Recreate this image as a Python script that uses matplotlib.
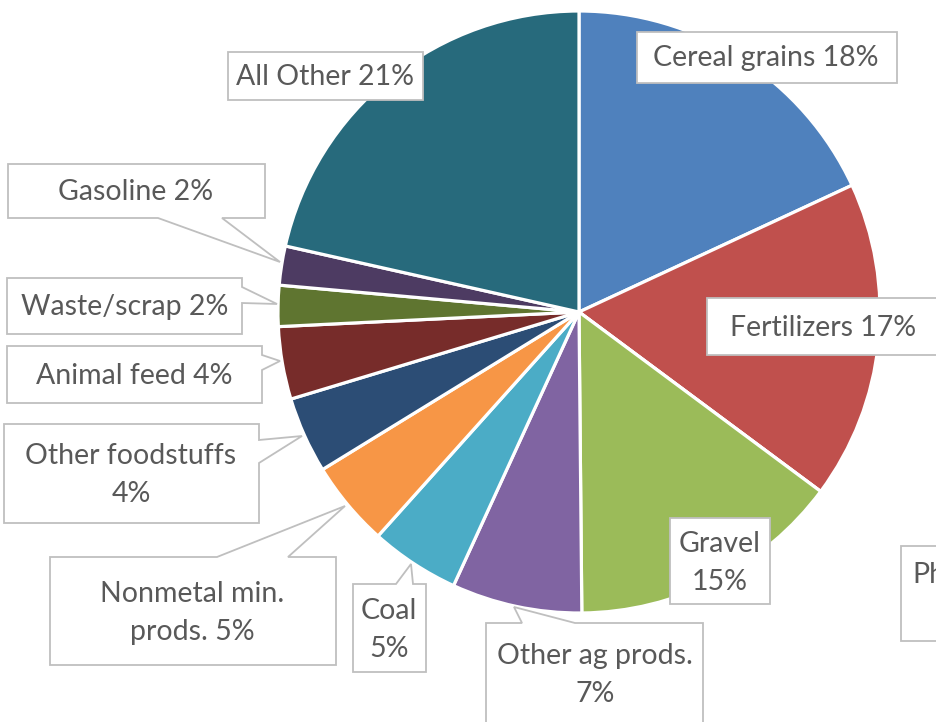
import matplotlib
matplotlib.use("Agg")
import matplotlib.pyplot as plt
from matplotlib.patches import Polygon

# ---- data ----
categories = ["Cereal grains", "Fertilizers", "Pharmaceuticals", "Gravel", "Other ag prods.",
              "Coal", "Nonmetal min. prods.", "Other foodstuffs", "Animal feed",
              "Waste/scrap", "Gasoline", "All Other"]
values = [18.1, 17.1, 0.0, 14.7, 7.0, 4.8, 4.6, 4.1, 3.9, 2.2, 2.1, 21.5]
pct_labels = ["18%", "17%", "0%", "15%", "7%", "5%", "5%", "4%", "4%", "2%", "2%", "21%"]
colors = ["#4F81BD", "#C0504D", "#8EB4E3", "#9BBB59", "#8064A2", "#4BACC6", "#F79646",
          "#2C4D75", "#772C2A", "#5F7530", "#4D3B62", "#276A7C"]

W, H = 937, 722
fig = plt.figure(figsize=(W / 100, H / 100), dpi=100)
ax = fig.add_axes([0, 0, 1, 1])

def Y(y):
    return H - y

cx, cy, R = 579, 312, 301
ax.pie(values, colors=colors, startangle=90, counterclock=False,
       center=(cx, Y(cy)), radius=R,
       wedgeprops=dict(edgecolor="white", linewidth=2.3))
ax.set_xlim(0, W)
ax.set_ylim(0, H)
ax.set_aspect("equal")
ax.axis("off")

# label layout (pixel coords, y down): box, text, text anchor, pointer
# pointer: (side, base_a, base_b, tip_x, tip_y)
layout = {
    "Cereal grains": dict(box=(637, 32, 897, 83), text="Cereal grains 18%", tc=(766, 58), ptr=None),
    "Fertilizers": dict(box=(707, 298, 1000, 355), text="Fertilizers 17%", tc=(823, 328), ptr=None),
    "Pharmaceuticals": dict(box=(901, 546, 1080, 641), text="Pharmaceuticals\n0%", tc=(912, 594),
                            ptr=None, ha="left"),
    "Gravel": dict(box=(670, 518, 770, 604), text="Gravel\n15%", tc=(720, 563), ptr=None),
    "Other ag prods.": dict(box=(486, 623, 703, 760), text="Other ag prods.\n7%", tc=(595, 675),
                            ptr=("top", 522, 575, 514, 607)),
    "Coal": dict(box=(353, 584, 426, 672), text="Coal\n5%", tc=(389, 630),
                 ptr=("top", 396, 413, 411, 564)),
    "Nonmetal min. prods.": dict(box=(50, 557, 336, 665), text="Nonmetal min.\nprods. 5%", tc=(192, 613),
                                 ptr=("top", 217, 288, 345, 506)),
    "Other foodstuffs": dict(box=(4, 424, 259, 523), text="Other foodstuffs\n4%", tc=(131, 475),
                             ptr=("right", 440, 463, 302, 436)),
    "Animal feed": dict(box=(7, 346, 262, 403), text="Animal feed 4%", tc=(134, 376),
                        ptr=("right", 355, 370, 280, 361)),
    "Waste/scrap": dict(box=(7, 278, 242, 334), text="Waste/scrap 2%", tc=(125, 307),
                        ptr=("right", 287, 303, 277, 304)),
    "Gasoline": dict(box=(8, 164, 265, 218), text="Gasoline 2%", tc=(136, 192),
                     ptr=("bottom", 222, 158, 280, 262)),
    "All Other": dict(box=(228, 52, 423, 100), text="All Other 21%", tc=(325, 77), ptr=None),
}

def callout_vertices(box, ptr):
    x0, y0, x1, y1 = box
    pts = [(x0, y0)]
    if ptr and ptr[0] == "top":
        a, b = sorted(ptr[1:3])
        pts += [(a, y0), (ptr[3], ptr[4]), (b, y0)]
    pts.append((x1, y0))
    if ptr and ptr[0] == "right":
        a, b = sorted(ptr[1:3])
        pts += [(x1, a), (ptr[3], ptr[4]), (x1, b)]
    pts.append((x1, y1))
    if ptr and ptr[0] == "bottom":
        a, b = sorted(ptr[1:3], reverse=True)
        pts += [(a, y1), (ptr[3], ptr[4]), (b, y1)]
    pts.append((x0, y1))
    if ptr and ptr[0] == "left":
        a, b = sorted(ptr[1:3], reverse=True)
        pts += [(x0, a), (ptr[3], ptr[4]), (x0, b)]
    return [(x, Y(y)) for x, y in pts]

for name in categories:
    d = layout[name]
    poly = Polygon(callout_vertices(d["box"], d["ptr"]), closed=True,
                   facecolor="white", edgecolor="#BFBFBF", linewidth=1.3, zorder=5,
                   clip_on=False)
    ax.add_patch(poly)
    ax.text(d["tc"][0], Y(d["tc"][1]), d["text"], ha=d.get("ha", "center"), va="center",
            fontsize=20.5, color="#595959", family="Lato", zorder=6,
            linespacing=1.55, multialignment="center")

fig.savefig("out.png", dpi=100)
